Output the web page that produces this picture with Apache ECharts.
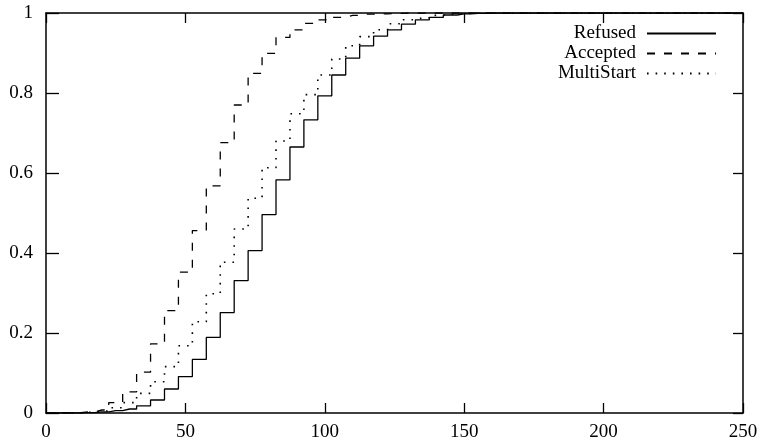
<!DOCTYPE html>
<html>
<head>
<meta charset="utf-8">
<script src="https://cdn.jsdelivr.net/npm/echarts@6/dist/echarts.min.js"></script>
<style>html,body{margin:0;padding:0;background:#fff;}#c{width:766px;height:446px;}</style>
</head>
<body>
<div id="c"></div>
<script>
var xCenters = [0,5,10,15,20,25,30,35,40,45,50,55,60,65,70,75,80,85,90,95,100,105,110,115,120,125,130,135,140,145,150,155,160,250];
var refused = [0,0,0,0.001,0.003,0.006,0.010,0.018,0.0325,0.060,0.091,0.134,0.189,0.251,0.331,0.406,0.496,0.583,0.665,0.733,0.793,0.845,0.887,0.918,0.942,0.958,0.972,0.983,0.989,0.995,0.998,0.999,1,1];
var accepted = [0,0,0.001,0.003,0.0075,0.026,0.053,0.102,0.173,0.256,0.352,0.456,0.568,0.676,0.770,0.849,0.899,0.939,0.958,0.974,0.983,0.989,0.994,0.997,0.998,0.999,1,1,1,1,1,1,1,1];
var multiStart = [0,0,0,0.002,0.005,0.013,0.026,0.049,0.078,0.116,0.168,0.228,0.298,0.377,0.460,0.537,0.613,0.680,0.748,0.796,0.845,0.885,0.918,0.941,0.958,0.973,0.983,0.988,0.994,0.997,0.999,1,1,1];
var seriesNames = ['Refused','Accepted','MultiStart'];
var xTicks = ['0','50','100','150','200','250'];
var yTicks = ['0','0.2','0.4','0.6','0.8','1'];

function pairs(v){ return xCenters.map(function(x,i){ return [x, v[i]]; }); }
var FONT = 'Liberation Serif';
var chart = echarts.init(document.getElementById('c'));
function legendFor(name, top){
  return {
    data:[name], orient:'vertical', right:49, top:top, align:'right',
    itemWidth:69, itemHeight:14, itemGap:0, padding:0,
    itemStyle:{opacity:0},
    textStyle:{fontFamily:FONT, fontSize:19, color:'#000', padding:[0,6,0,0]},
    selectedMode:false
  };
}
chart.setOption({
  animation:false,
  grid:{left:46, right:23, top:13, bottom:33},
  legend:[legendFor('Refused',24), legendFor('Accepted',44), legendFor('MultiStart',64)],
  xAxis:[{type:'value',min:0,max:250,interval:50,position:'bottom',
          axisLine:{onZero:false,lineStyle:{color:'#000',width:1.5}},splitLine:{show:false},
          axisTick:{show:true,inside:true,length:10,lineStyle:{color:'#000',width:1.3}},
          axisLabel:{fontFamily:FONT, fontSize:19, color:'#000', margin:10,
            formatter:function(v){ return xTicks[Math.round(v/50)]; }}},
         {type:'value',min:0,max:250,interval:50,position:'top',
          axisLine:{onZero:false,lineStyle:{color:'#000',width:1.5}},splitLine:{show:false},
          axisTick:{show:true,inside:true,length:10,lineStyle:{color:'#000',width:1.3}},
          axisLabel:{show:false}}],
  yAxis:[{type:'value',min:0,max:1,interval:0.2,position:'left',
          axisLine:{show:true,onZero:false,lineStyle:{color:'#000',width:1.5}},splitLine:{show:false},
          axisTick:{show:true,inside:true,length:13,lineStyle:{color:'#000',width:1.3}},
          axisLabel:{fontFamily:FONT, fontSize:19, color:'#000', margin:13,
            formatter:function(v){ return yTicks[Math.round(v/0.2)]; }}},
         {type:'value',min:0,max:1,interval:0.2,position:'right',
          axisLine:{show:true,onZero:false,lineStyle:{color:'#000',width:1.5}},splitLine:{show:false},
          axisTick:{show:true,inside:true,length:10,lineStyle:{color:'#000',width:1.3}},
          axisLabel:{show:false}}],
  series:[{
    name:seriesNames[0], type:'line', step:'middle', symbol:'none', data:pairs(refused),
    lineStyle:{color:'#000', width:1.3, type:'solid'}, itemStyle:{color:'#000'}
  },{
    name:seriesNames[1], type:'line', step:'middle', symbol:'none', data:pairs(accepted),
    lineStyle:{color:'#000', width:1.3, type:[8,9]}, itemStyle:{color:'#000'}
  },{
    name:seriesNames[2], type:'line', step:'middle', symbol:'none', data:pairs(multiStart),
    lineStyle:{color:'#000', width:1.6, type:[1.6,7]}, itemStyle:{color:'#000'}
  }]
});
</script>
</body>
</html>
